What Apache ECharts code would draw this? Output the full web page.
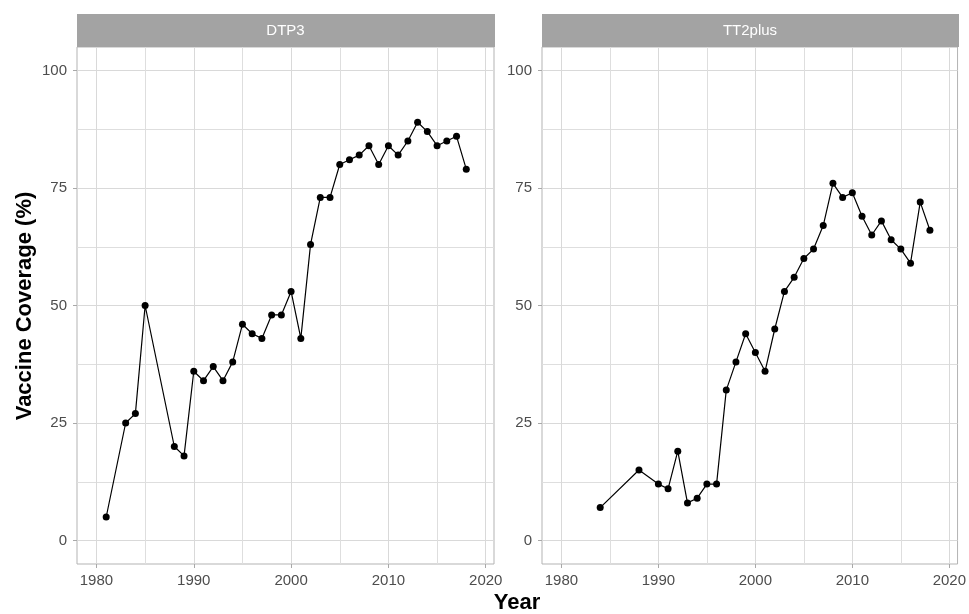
<!DOCTYPE html>
<html>
<head>
<meta charset="utf-8">
<script src="https://cdn.jsdelivr.net/npm/echarts@6/dist/echarts.min.js"></script>
<style>
  html, body { margin: 0; padding: 0; background: #fff; }
  #chart { width: 969px; height: 614px; }
</style>
</head>
<body>
<div id="chart"></div>
<script>
// DTP3 coverage by year
const dtp3Years = [1981, 1983, 1984, 1985, 1988, 1989, 1990, 1991, 1992, 1993, 1994, 1995, 1996, 1997, 1998, 1999,
  2000, 2001, 2002, 2003, 2004, 2005, 2006, 2007, 2008, 2009, 2010, 2011, 2012, 2013, 2014, 2015, 2016, 2017, 2018];
const dtp3Values = [5, 25, 27, 50, 20, 18, 36, 34, 37, 34, 38, 46, 44, 43, 48, 48,
  53, 43, 63, 73, 73, 80, 81, 82, 84, 80, 84, 82, 85, 89, 87, 84, 85, 86, 79];

// TT2plus coverage by year
const ttYears = [1984, 1988, 1990, 1991, 1992, 1993, 1994, 1995, 1996, 1997, 1998, 1999,
  2000, 2001, 2002, 2003, 2004, 2005, 2006, 2007, 2008, 2009, 2010, 2011, 2012, 2013, 2014, 2015, 2016, 2017, 2018];
const ttValues = [7, 15, 12, 11, 19, 8, 9, 12, 12, 32, 38, 44,
  40, 36, 45, 53, 56, 60, 62, 67, 76, 73, 74, 69, 65, 68, 64, 62, 59, 72, 66];

const panelNames = ["DTP3", "TT2plus"];
const xMajorTicks = [1980, 1990, 2000, 2010, 2020];
const xMinorTicks = [1985, 1995, 2005, 2015];
const yMajorTicks = [0, 25, 50, 75, 100];
const yMinorTicks = [12.5, 37.5, 62.5, 87.5];

const chart = echarts.init(document.getElementById("chart"));

const panels = [
  { left: 77, width: 417 },
  { left: 542, width: 416 }
];
const gridTop = 47, gridHeight = 517;
const fontFamily = "Liberation Sans, Arial, sans-serif";
const labelFont = { color: "#4d4d4d", fontSize: 15, fontFamily: fontFamily };

const grids = [], xAxes = [], yAxes = [], graphics = [];
panels.forEach((p, i) => {
  grids.push({
    left: p.left, top: gridTop, width: p.width, height: gridHeight,
    show: true, borderColor: "#b3b3b3", borderWidth: 1, backgroundColor: "#fff"
  });
  // major x
  xAxes.push({
    type: "value", gridIndex: i, min: 1978, max: 2020.85,
    axisLine: { show: false, onZero: false },
    axisTick: { show: true, length: 4, lineStyle: { color: "#a8a8a8" }, customValues: xMajorTicks },
    axisLabel: { ...labelFont, margin: 9, customValues: xMajorTicks, formatter: v => String(v) },
    splitLine: { show: true, lineStyle: { color: "#d9d9d9", width: 1 } }
  });
  // minor x
  xAxes.push({
    type: "value", gridIndex: i, min: 1978, max: 2020.85,
    axisLine: { show: false, onZero: false },
    axisTick: { show: false, customValues: xMinorTicks },
    axisLabel: { show: false, customValues: xMinorTicks },
    splitLine: { show: true, lineStyle: { color: "#dedede", width: 1 } }
  });
  yAxes.push({
    type: "value", gridIndex: i, min: -5, max: 105,
    axisLine: { show: false, onZero: false },
    axisTick: { show: true, length: 4, lineStyle: { color: "#a8a8a8" }, customValues: yMajorTicks },
    axisLabel: { ...labelFont, margin: 10, customValues: yMajorTicks },
    splitLine: { show: true, lineStyle: { color: "#d9d9d9", width: 1 } }
  });
  yAxes.push({
    type: "value", gridIndex: i, min: -5, max: 105,
    axisLine: { show: false, onZero: false },
    axisTick: { show: false, customValues: yMinorTicks },
    axisLabel: { show: false, customValues: yMinorTicks },
    splitLine: { show: true, lineStyle: { color: "#dedede", width: 1 } }
  });
  // facet strip
  graphics.push({
    type: "rect", shape: { x: p.left, y: 14, width: p.width + 1, height: 33 },
    style: { fill: "#a3a3a3" }
  });
  graphics.push({
    type: "text", x: p.left + p.width / 2, y: 31,
    style: {
      text: panelNames[i], fill: "#fff", fontSize: 15,
      fontFamily: fontFamily, align: "center", verticalAlign: "middle"
    }
  });
});

graphics.push({
  type: "text", x: 25, y: 306, rotation: Math.PI / 2,
  style: {
    text: "Vaccine Coverage (%)", fill: "#000", fontSize: 22, fontWeight: "bold",
    fontFamily: fontFamily, align: "center", verticalAlign: "middle"
  }
});
graphics.push({
  type: "text", x: 517, y: 603,
  style: {
    text: "Year", fill: "#000", fontSize: 22, fontWeight: "bold",
    fontFamily: fontFamily, align: "center", verticalAlign: "middle"
  }
});

const seriesStyle = {
  type: "line", symbol: "circle", symbolSize: 7,
  itemStyle: { color: "#000" }, lineStyle: { color: "#000", width: 1.2 }
};

chart.setOption({
  animation: false,
  grid: grids,
  xAxis: xAxes,
  yAxis: yAxes,
  graphic: graphics,
  series: [
    {
      ...seriesStyle, name: "DTP3", xAxisIndex: 0, yAxisIndex: 0,
      data: dtp3Years.map((y, i) => [y, dtp3Values[i]])
    },
    {
      ...seriesStyle, name: "TT2plus", xAxisIndex: 2, yAxisIndex: 2,
      data: ttYears.map((y, i) => [y, ttValues[i]])
    }
  ]
});
</script>
</body>
</html>
